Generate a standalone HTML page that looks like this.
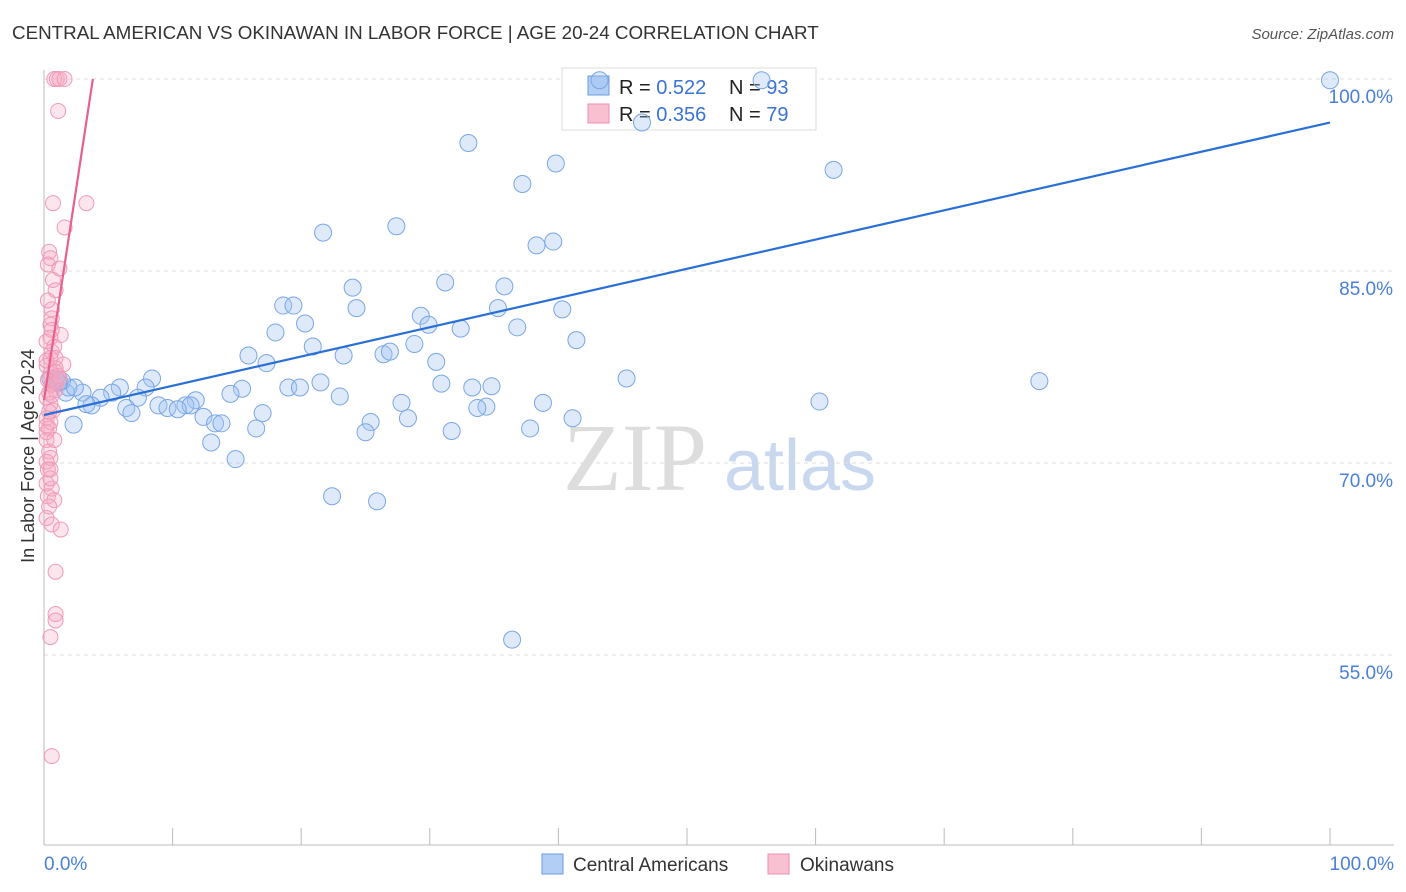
<!DOCTYPE html>
<html><head><meta charset="utf-8"><style>
body{margin:0;background:#fff;font-family:"Liberation Sans",sans-serif}
svg{display:block}
</style></head><body>
<svg id="chart" width="1406" height="892">
<text x="12" y="39" font-size="18.8" fill="#333">CENTRAL AMERICAN VS OKINAWAN IN LABOR FORCE | AGE 20-24 CORRELATION CHART</text>
<text x="1394" y="39" font-size="15" fill="#555" text-anchor="end" font-style="italic">Source: ZipAtlas.com</text>
<text x="635" y="490" font-size="96" fill="#ddd" font-family="Liberation Serif,serif" text-anchor="middle">ZIP</text>
<text x="800" y="490" font-size="72" fill="#c9d8ef" text-anchor="middle">atlas</text>
<text transform="translate(34,456) rotate(-90)" font-size="18" fill="#333" text-anchor="middle">In Labor Force | Age 20-24</text>
<g id="grid"></g>
<g>
<rect x="562" y="68" width="254" height="62" fill="#fff" stroke="#ddd"/>
<rect x="588" y="76" width="21" height="19" fill="#b3cef5" stroke="#6a9be0"/>
<rect x="588" y="104" width="21" height="19" fill="#f8c0d0" stroke="#ee8fae"/>
<text x="619" y="94" font-size="20" fill="#222">R = <tspan fill="#3a73d6">0.522</tspan></text>
<text x="729" y="94" font-size="20" fill="#222">N = <tspan fill="#3a73d6">93</tspan></text>
<text x="619" y="121" font-size="20" fill="#222">R = <tspan fill="#3a73d6">0.356</tspan></text>
<text x="729" y="121" font-size="20" fill="#222">N = <tspan fill="#3a73d6">79</tspan></text>
</g>
<g id="marks"></g>
<g>
<rect x="542" y="854" width="21" height="20" fill="#b3cef5" stroke="#6a9be0"/>
<text x="573" y="871" font-size="19" fill="#333">Central Americans</text>
<rect x="768" y="854" width="21" height="20" fill="#f8c0d0" stroke="#ee8fae"/>
<text x="800" y="871" font-size="19" fill="#333">Okinawans</text>
</g>
</svg>
<script>
const yTicks=[100,85,70,55];
const yTickLabels=["100.0%","85.0%","70.0%","55.0%"];
const xTickLabels=["0.0%","100.0%"];
const blueX=[43.2,55.8,100,46.5,33.0,39.8,37.2,61.4,27.4,21.7,38.3,39.6,31.2,35.8,24.0,24.3,18.6,19.4,35.3,40.3,20.3,29.3,29.9,32.4,36.8,18.0,41.4,20.9,28.8,23.3,26.4,26.9,15.9,17.3,30.5,8.4,45.3,77.4,5.9,7.9,21.5,30.9,34.8,33.3,19.0,19.9,15.4,14.5,23.0,3.0,1.7,5.3,4.4,7.3,1.2,0.9,1.9,11.8,60.3,27.8,38.8,8.9,11.0,11.4,9.6,10.4,3.7,3.3,6.4,6.8,34.4,33.7,17.0,12.4,28.3,41.1,25.4,13.3,13.8,2.3,25.0,16.5,31.7,37.8,13.0,14.9,22.4,25.9,36.4,1.1,1.4,0.5,2.4];
const blueY=[99.9,99.9,99.9,96.6,95.0,93.4,91.8,92.9,88.5,88.0,87.0,87.3,84.1,83.8,83.7,82.1,82.3,82.3,82.1,82.0,80.9,81.5,80.8,80.5,80.6,80.2,79.6,79.1,79.3,78.4,78.5,78.7,78.4,77.8,77.9,76.6,76.6,76.4,75.9,75.9,76.3,76.2,76.0,75.9,75.9,75.9,75.8,75.4,75.2,75.5,75.5,75.5,75.1,75.1,76.3,76.5,75.9,74.9,74.8,74.7,74.7,74.5,74.5,74.5,74.3,74.2,74.5,74.6,74.3,73.9,74.4,74.3,73.9,73.6,73.5,73.5,73.2,73.1,73.1,73.0,72.4,72.7,72.5,72.7,71.6,70.3,67.4,67.0,56.2,76.3,76.4,76.6,75.9];
const pinkX=[0.8,1.0,1.2,1.6,1.1,0.7,3.3,1.6,0.4,0.5,0.3,1.2,0.7,0.9,0.6,0.6,1.3,0.5,0.8,0.6,0.5,0.9,1.5,0.2,0.5,0.9,0.3,0.6,0.4,0.9,0.2,0.5,0.7,0.2,0.5,0.4,0.2,0.4,0.5,0.2,0.5,0.2,0.6,0.3,0.8,0.4,0.2,0.6,1.3,0.9,0.9,0.9,0.5,0.6,0.3,0.5,0.2,0.6,0.9,0.4,0.2,0.8,0.5,0.9,1.1,0.2,0.6,0.3,1.2,0.2];
const pinkY=[100,100,100,100,97.5,90.3,90.3,88.4,86.5,86.0,85.5,85.2,84.3,83.5,82.0,81.3,80.0,79.8,79.1,78.7,78.2,78.2,77.7,77.6,77.0,77.1,76.5,76.1,75.5,75.7,75.1,74.6,74.1,73.5,73.2,72.7,71.8,70.9,70.4,70.1,69.5,68.4,68.0,67.4,67.1,66.6,65.7,65.2,64.8,61.5,58.2,57.7,56.4,47.1,82.7,80.8,79.5,75.3,77.4,74.0,72.4,71.8,68.8,76.2,76.8,78.0,80.4,69.5,76.6,72.9];
const blueTrendX=[0,100], blueTrendY=[73.75,96.6];
const pinkTrendX=[0,3.8], pinkTrendY=[74.9,100];
const NS="http://www.w3.org/2000/svg";
const sx=v=>44+v*12.86, sy=v=>79+(100-v)*12.8;
const grid=document.getElementById('grid'), marks=document.getElementById('marks');
function mk(tag,at,parent){const e=document.createElementNS(NS,tag);for(const k in at)e.setAttribute(k,at[k]);parent.appendChild(e);return e;}
yTicks.forEach((t,i)=>{
 const l=mk('line',{x1:44,x2:1394,y1:sy(t),y2:sy(t),stroke:'#ddd','stroke-dasharray':'4,4'},grid);
 
 
 const tx=mk('text',{x:1393,y:sy(t)+24,'font-size':19,fill:'#4a80d8','text-anchor':'end'},grid);
 tx.textContent=yTickLabels[i];
 
 
});
const ax=mk('line',{x1:44,x2:1394,y1:845,y2:845,stroke:'#bbb'},grid);


const ay=mk('line',{x1:44,x2:44,y1:70,y2:845,stroke:'#bbb'},grid);


for(let i=1;i<=10;i++){
 const t=mk('line',{x1:sx(i*10),x2:sx(i*10),y1:828,y2:845,stroke:'#bbb'},grid);
 
 
}
[[0,'start',44],[100,'end',1394]].forEach((d,i)=>{
 const t=mk('text',{x:d[2],y:870,'font-size':19,fill:'#4a80d8','text-anchor':d[1]},grid);
 t.textContent=xTickLabels[i];
 
 
});
blueX.forEach((x,i)=>{
 const c=mk('circle',{cx:sx(x),cy:sy(blueY[i]),r:8.5,fill:'rgba(160,195,240,0.35)',stroke:'#7aa6e6','stroke-width':1},marks);
 
 
});
pinkX.forEach((x,i)=>{
 const c=mk('circle',{cx:sx(x),cy:sy(pinkY[i]),r:7.5,fill:'rgba(245,170,195,0.3)',stroke:'#f09ab6','stroke-width':1},marks);
 
 
});
const bl=mk('line',{x1:sx(blueTrendX[0]),y1:sy(blueTrendY[0]),x2:sx(blueTrendX[1]),y2:sy(blueTrendY[1]),stroke:'#2a6fd6','stroke-width':2.2},marks);


const pl=mk('line',{x1:sx(pinkTrendX[0]),y1:sy(pinkTrendY[0]),x2:sx(pinkTrendX[1]),y2:sy(pinkTrendY[1]),stroke:'#e8608e','stroke-width':2.2},marks);


</script>
</body></html>
